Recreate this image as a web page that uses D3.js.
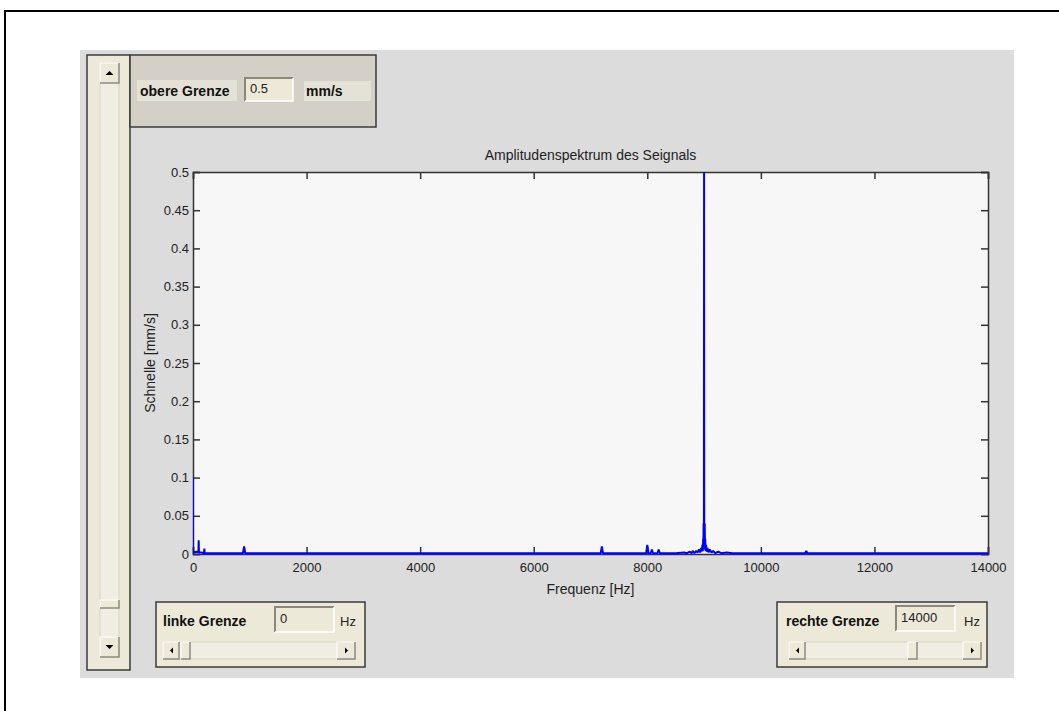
<!DOCTYPE html>
<html>
<head>
<meta charset="utf-8">
<script src="https://cdn.jsdelivr.net/npm/d3@7"></script>
<style>
  body { margin: 0; background: #fff; }
  svg { display: block; }
  .tick-label { font-family: "Liberation Sans", Arial, sans-serif; font-size: 13px; fill: #222; }
  .axis-title { font-family: "Liberation Sans", Arial, sans-serif; font-size: 14px; fill: #222; }
  .ui-bold { font-family: "Liberation Sans", Arial, sans-serif; font-size: 14px; font-weight: bold; fill: #111; }
  .ui-text { font-family: "Liberation Sans", Arial, sans-serif; font-size: 13px; fill: #222; }
</style>
</head>
<body>
<svg id="chart" width="1059" height="711"></svg>
<script>
// spectrum (Hz, mm/s)
const freqHz = [0, 0, 20, 60, 95, 100, 105, 150, 195, 200, 205, 400, 880, 900, 920, 2000,
  7180, 7200, 7220, 7980, 8000, 8020, 8060, 8080, 8100, 8180, 8200, 8220, 8500, 8650, 8700,
  8750, 8780, 8800, 8830, 8860, 8890, 8910, 8930, 8950, 8960, 8970, 8978, 8984, 8988, 8991,
  8994, 8997, 9000, 9003, 9006, 9009, 9012, 9016, 9020, 9028, 9036, 9046, 9060, 9080, 9100,
  9130, 9160, 9200, 9250, 9300, 9400, 9500, 10780, 10800, 10820, 12000, 14000];
const amplitude = [0.1, 0.004, 0.002, 0.003, 0.002, 0.018, 0.002, 0.002, 0.001, 0.007, 0.001, 0.001, 0.001, 0.01, 0.001, 0.001,
  0.001, 0.01, 0.001, 0.001, 0.012, 0.001, 0.001, 0.006, 0.001, 0.001, 0.006, 0.001, 0.001, 0.002, 0.001,
  0.003, 0.001, 0.004, 0.001, 0.004, 0.002, 0.006, 0.002, 0.008, 0.003, 0.012, 0.004, 0.02, 0.006, 0.04,
  0.008, 0.04, 0.5, 0.01, 0.04, 0.008, 0.04, 0.006, 0.02, 0.004, 0.012, 0.003, 0.008, 0.002, 0.006,
  0.002, 0.004, 0.001, 0.003, 0.001, 0.002, 0.001, 0.001, 0.004, 0.001, 0.001, 0.001];

const xTicks = [0, 2000, 4000, 6000, 8000, 10000, 12000, 14000];
const yTicks = [0, 0.05, 0.1, 0.15, 0.2, 0.25, 0.3, 0.35, 0.4, 0.45, 0.5];

const title = 'Amplitudenspektrum des Seignals';
const xLabel = 'Frequenz [Hz]';
const yLabel = 'Schnelle [mm/s]';

const svg = d3.select('#chart');

// outer frame of the page
svg.append('path')
    .attr('d', 'M5,711 L5,11 L1059,11')
    .attr('fill', 'none')
    .attr('stroke', '#000')
    .attr('stroke-width', 2);

// figure window background
svg.append('rect')
    .attr('x', 80).attr('y', 50).attr('width', 934).attr('height', 628)
    .attr('fill', '#dcdcdc');

const beige = '#ece9d8';
const edge = '#3a3a3a';

// small helpers for the windows-style widgets
function button(g, x, y, w, h, dir) {
    g.append('rect').attr('x', x).attr('y', y).attr('width', w).attr('height', h)
        .attr('fill', '#ece9d8').attr('stroke', '#fff').attr('stroke-width', 1);
    g.append('path')
        .attr('d', `M${x + w},${y} L${x + w},${y + h} L${x},${y + h}`)
        .attr('fill', 'none').attr('stroke', '#8a877c').attr('stroke-width', 1.5);
    const cx = x + w / 2, cy = y + h / 2;
    let tri;
    if (dir === 'up') tri = `M${cx - 4},${cy + 2} L${cx + 4},${cy + 2} L${cx},${cy - 2}Z`;
    if (dir === 'down') tri = `M${cx - 4},${cy - 2} L${cx + 4},${cy - 2} L${cx},${cy + 2}Z`;
    if (dir === 'left') tri = `M${cx + 2},${cy - 3} L${cx + 2},${cy + 3} L${cx - 1},${cy}Z`;
    if (dir === 'right') tri = `M${cx - 1},${cy - 3} L${cx - 1},${cy + 3} L${cx + 2},${cy}Z`;
    if (tri) g.append('path').attr('d', tri).attr('fill', '#000');
}

function editBox(g, x, y, w, h, txt) {
    g.append('rect').attr('x', x).attr('y', y).attr('width', w).attr('height', h)
        .attr('fill', '#ece9d8');
    g.append('path').attr('d', `M${x},${y + h} L${x},${y} L${x + w},${y}`)
        .attr('fill', 'none').attr('stroke', '#8a877c').attr('stroke-width', 2);
    g.append('path').attr('d', `M${x + w},${y} L${x + w},${y + h} L${x},${y + h}`)
        .attr('fill', 'none').attr('stroke', '#fff').attr('stroke-width', 1.5);
    g.append('text').attr('class', 'ui-text').attr('x', x + 5).attr('y', y + h / 2 + 3).text(txt);
}

function hScroll(g, x, y, w, h, thumbX) {
    g.append('rect').attr('x', x).attr('y', y).attr('width', w).attr('height', h)
        .attr('fill', '#f0eee2').attr('stroke', '#d8d5c6');
    button(g, x, y, 16, h, 'left');
    button(g, x + w - 18, y, 18, h, 'right');
    g.append('rect').attr('x', thumbX).attr('y', y).attr('width', 9).attr('height', h)
        .attr('fill', '#ece9d8').attr('stroke', '#fff');
    g.append('path').attr('d', `M${thumbX + 9},${y} L${thumbX + 9},${y + h} L${thumbX},${y + h}`)
        .attr('fill', 'none').attr('stroke', '#8a877c').attr('stroke-width', 1.5);
}

// left vertical slider panel
const leftPanel = svg.append('g');
leftPanel.append('rect').attr('x', 87).attr('y', 55).attr('width', 43).attr('height', 615)
    .attr('fill', beige).attr('stroke', edge).attr('stroke-width', 1.5);
leftPanel.append('rect').attr('x', 100).attr('y', 63).attr('width', 19).attr('height', 594)
    .attr('fill', '#f0eee2').attr('stroke', '#d8d5c6');
button(leftPanel, 100, 63, 19, 20, 'up');
button(leftPanel, 100, 637, 19, 20, 'down');
leftPanel.append('rect').attr('x', 100).attr('y', 600).attr('width', 19).attr('height', 8)
    .attr('fill', beige).attr('stroke', '#fff');
leftPanel.append('path').attr('d', 'M119,600 L119,608 L100,608')
    .attr('fill', 'none').attr('stroke', '#8a877c').attr('stroke-width', 1.5);

// top panel with the upper limit
const topPanel = svg.append('g');
topPanel.append('rect').attr('x', 130).attr('y', 55).attr('width', 246).attr('height', 72)
    .attr('fill', '#d4d0c8').attr('stroke', edge).attr('stroke-width', 1.5);
topPanel.append('rect').attr('x', 137).attr('y', 80).attr('width', 100).attr('height', 21).attr('fill', '#e4e1d6');
topPanel.append('text').attr('class', 'ui-bold').attr('x', 140).attr('y', 96).text('obere Grenze');
editBox(topPanel, 245, 78, 48, 23, '0.5');
topPanel.append('rect').attr('x', 304).attr('y', 81).attr('width', 67).attr('height', 20).attr('fill', '#e4e1d6');
topPanel.append('text').attr('class', 'ui-bold').attr('x', 306).attr('y', 96).text('mm/s');

// bottom left panel
const blPanel = svg.append('g');
blPanel.append('rect').attr('x', 156).attr('y', 602).attr('width', 209).attr('height', 65)
    .attr('fill', beige).attr('stroke', edge).attr('stroke-width', 1.5);
blPanel.append('text').attr('class', 'ui-bold').attr('x', 163).attr('y', 626).text('linke Grenze');
editBox(blPanel, 275, 607, 59, 25, '0');
blPanel.append('text').attr('class', 'ui-text').attr('x', 340).attr('y', 626).text('Hz');
hScroll(blPanel, 163, 642, 192, 17, 181);

// bottom right panel
const brPanel = svg.append('g');
brPanel.append('rect').attr('x', 777).attr('y', 602).attr('width', 210).attr('height', 65)
    .attr('fill', beige).attr('stroke', edge).attr('stroke-width', 1.5);
brPanel.append('text').attr('class', 'ui-bold').attr('x', 786).attr('y', 626).text('rechte Grenze');
editBox(brPanel, 896, 606, 59, 25, '14000');
brPanel.append('text').attr('class', 'ui-text').attr('x', 964).attr('y', 626).text('Hz');
hScroll(brPanel, 789, 642, 192, 17, 908);

// the axes
const plot = { left: 193, right: 988, top: 172, bottom: 554 };

const x = d3.scaleLinear().domain([0, 14000]).range([plot.left, plot.right]);
const y = d3.scaleLinear().domain([0, 0.5]).range([plot.bottom, plot.top]);

svg.append('rect')
    .attr('x', plot.left).attr('y', plot.top)
    .attr('width', plot.right - plot.left).attr('height', plot.bottom - plot.top)
    .attr('fill', '#f7f7f7');

const tickLen = 7;
const fmt = d => d3.format('')(+d.toFixed(2));

const xAxisB = d3.axisBottom(x).tickValues(xTicks).tickSize(-tickLen).tickPadding(9).tickFormat(d3.format('d'));
const xAxisT = d3.axisTop(x).tickValues(xTicks).tickSize(-tickLen).tickFormat('');
const yAxisL = d3.axisLeft(y).tickValues(yTicks).tickSize(-tickLen).tickPadding(4).tickFormat(fmt);
const yAxisR = d3.axisRight(y).tickValues(yTicks).tickSize(-tickLen).tickFormat('');

function styleAxis(g) {
    g.select('.domain').attr('stroke', '#333').attr('stroke-width', 1.5);
    g.selectAll('.tick line').attr('stroke', '#333').attr('stroke-width', 1.5);
    g.selectAll('.tick text').attr('class', 'tick-label').attr('font-family', null).attr('font-size', null);
}

svg.append('g').attr('transform', `translate(0,${plot.bottom})`).call(xAxisB).call(styleAxis);
svg.append('g').attr('transform', `translate(0,${plot.top})`).call(xAxisT).call(styleAxis);
svg.append('g').attr('transform', `translate(${plot.left},0)`).call(yAxisL).call(styleAxis);
svg.append('g').attr('transform', `translate(${plot.right},0)`).call(yAxisR).call(styleAxis);

// spectrum line
const points = freqHz.map((f, i) => [f, amplitude[i]]);
svg.append('clipPath').attr('id', 'plot-clip')
    .append('rect')
    .attr('x', plot.left).attr('y', plot.top - 1)
    .attr('width', plot.right - plot.left).attr('height', plot.bottom - plot.top + 2);

svg.append('path')
    .datum(points)
    .attr('clip-path', 'url(#plot-clip)')
    .attr('fill', 'none')
    .attr('stroke', '#0000ff')
    .attr('stroke-width', 2)
    .attr('stroke-linejoin', 'bevel')
    .attr('d', d3.line().x(d => x(d[0])).y(d => y(d[1])));

// titles
svg.append('text')
    .attr('class', 'axis-title')
    .attr('x', (plot.left + plot.right) / 2).attr('y', plot.top - 12)
    .attr('text-anchor', 'middle')
    .text(title);

svg.append('text')
    .attr('class', 'axis-title')
    .attr('x', (plot.left + plot.right) / 2).attr('y', 594)
    .attr('text-anchor', 'middle')
    .text(xLabel);

svg.append('text')
    .attr('class', 'axis-title')
    .attr('transform', `translate(155,${(plot.top + plot.bottom) / 2}) rotate(-90)`)
    .attr('text-anchor', 'middle')
    .text(yLabel);
</script>
</body>
</html>
